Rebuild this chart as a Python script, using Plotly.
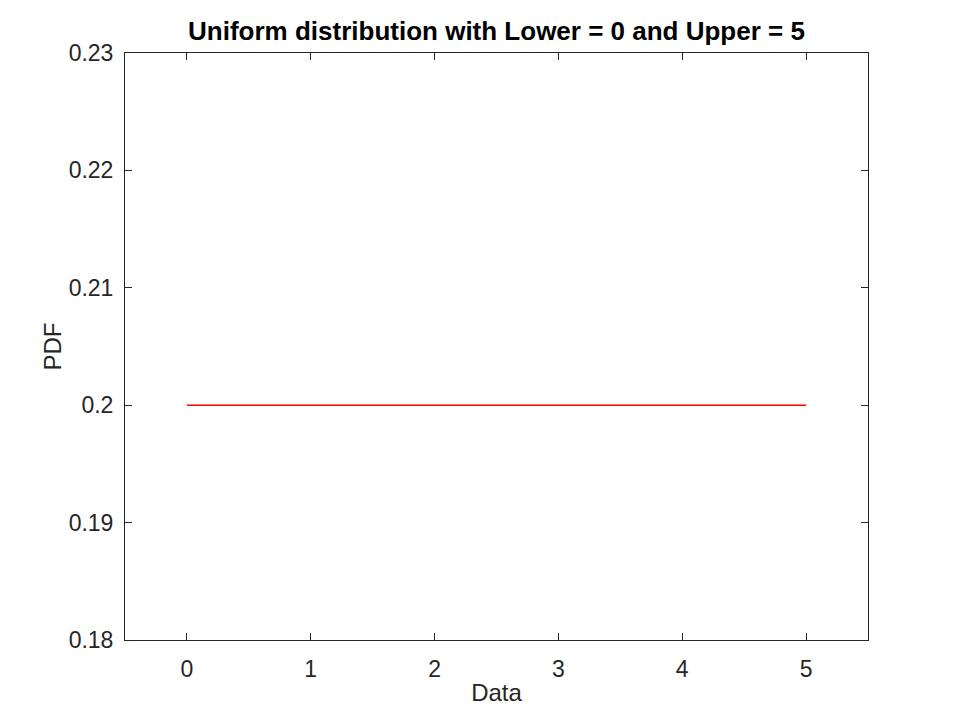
import numpy as np
import plotly.graph_objects as go

# uniform pdf, lower = 0, upper = 5
data_x = [0, 1, 2, 3, 4, 5]
pdf_y = [0.2, 0.2, 0.2, 0.2, 0.2, 0.2]
x_ticks = [0, 1, 2, 3, 4, 5]
y_ticks = [0.18, 0.19, 0.2, 0.21, 0.22, 0.23]
y_labels = ['0.18', '0.19', '0.2', '0.21', '0.22', '0.23']

FONT = 'Liberation Sans, Arial'

fig = go.Figure()
fig.add_trace(go.Scatter(
    x=data_x, y=pdf_y, mode='lines',
    line=dict(color='#ff0000', width=1.5),
    showlegend=False
))

axis_common = dict(
    showline=True, linecolor='#262626', linewidth=1, mirror='ticks',
    ticks='inside', ticklen=7, tickcolor='#262626', tickwidth=1,
    showgrid=False, zeroline=False,
    tickfont=dict(family=FONT, size=23, color='#262626'),
)

fig.update_layout(
    width=960, height=720,
    margin=dict(l=117, r=100, t=45, b=88),
    paper_bgcolor='white', plot_bgcolor='white',
    title=dict(
        text='<b>Uniform distribution with Lower = 0 and Upper = 5</b>',
        xref='paper', x=0.5, xanchor='center', y=0.968, yanchor='middle',
        font=dict(family=FONT, size=26, color='black')
    ),
    xaxis=dict(
        range=[-0.5, 5.5], tickvals=x_ticks, ticklabelstandoff=8,
        title=dict(text='Data', standoff=3,
                   font=dict(family=FONT, size=24, color='#262626')),
        **axis_common
    ),
    yaxis=dict(
        range=[0.18, 0.23], tickvals=y_ticks, ticktext=y_labels,
        ticklabelstandoff=6,
        title=dict(text='PDF', standoff=0,
                   font=dict(family=FONT, size=24, color='#262626')),
        **axis_common
    ),
)

fig.write_html("out.html")
